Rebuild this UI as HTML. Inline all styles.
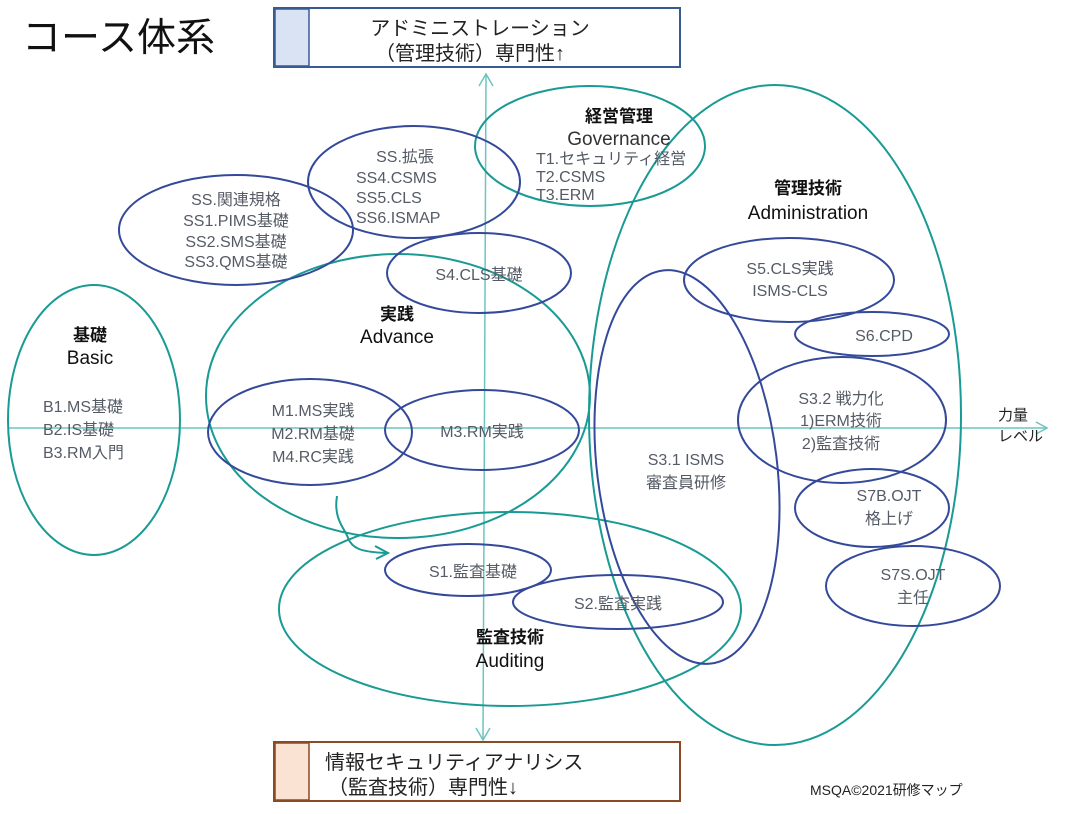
<!DOCTYPE html>
<html><head><meta charset="utf-8"><style>
body{margin:0;background:#fff;width:1072px;height:814px;overflow:hidden}
svg{display:block}
text{font-family:"Liberation Sans","Noto Sans CJK JP",sans-serif}
.g{fill:#555b66;font-size:16px}
.b{fill:#111;font-size:17px;font-weight:bold}
.t{fill:none;stroke:#1a9a94;stroke-width:2}
.n{fill:none;stroke:#34499a;stroke-width:2}
</style></head><body>
<svg width="1072" height="814" viewBox="0 0 1072 814">
<text x="22" y="51" font-size="39" fill="#111">コース体系</text>
<!-- boxes -->
<rect x="274" y="8" width="406" height="59" fill="#fff" stroke="#3a5a94" stroke-width="2"/>
<rect x="275" y="9" width="34" height="57" fill="#dae3f3" stroke="#3a5a94" stroke-width="1.5"/>
<text x="480" y="35" font-size="20" fill="#222" text-anchor="middle">アドミニストレーション</text>
<text x="470" y="60" font-size="20" fill="#222" text-anchor="middle">（管理技術）専門性↑</text>
<rect x="274" y="742" width="406" height="59" fill="#fff" stroke="#8a4a24" stroke-width="2"/>
<rect x="275" y="743" width="34" height="57" fill="#fbe3d4" stroke="#8a4a24" stroke-width="1.5"/>
<text x="325" y="769" font-size="20" fill="#222">情報セキュリティアナリシス</text>
<text x="328" y="794" font-size="20" fill="#222">（監査技術）専門性↓</text>
<!-- axes -->
<line x1="486" y1="74" x2="483" y2="740" stroke="#6cc5c0" stroke-width="1.5"/>
<polyline points="479,86 486,74 493,86" fill="none" stroke="#6cc5c0" stroke-width="1.5"/>
<polyline points="476,728 483,740 490,728" fill="none" stroke="#6cc5c0" stroke-width="1.5"/>
<line x1="8" y1="428" x2="1047" y2="428" stroke="#6cc5c0" stroke-width="1.5"/>
<polyline points="1036,422 1047,428 1036,434" fill="none" stroke="#6cc5c0" stroke-width="1.5"/>
<text x="998" y="420" font-size="15" fill="#222">力量</text>
<text x="998" y="441" font-size="15" fill="#222">レベル</text>
<!-- teal ellipses -->
<ellipse class="t" cx="590" cy="146" rx="115" ry="60"/>
<ellipse class="t" cx="775" cy="415" rx="186" ry="330"/>
<ellipse class="t" cx="94" cy="420" rx="86" ry="135"/>
<ellipse class="t" cx="398" cy="396" rx="192" ry="142"/>
<ellipse class="t" cx="510" cy="609" rx="231" ry="97"/>
<!-- navy ellipses -->
<ellipse class="n" cx="236" cy="230" rx="117" ry="55"/>
<ellipse class="n" cx="414" cy="182" rx="106" ry="56"/>
<ellipse class="n" cx="479" cy="273" rx="92" ry="40"/>
<ellipse class="n" cx="789" cy="280" rx="105" ry="42"/>
<ellipse class="n" cx="872" cy="334" rx="77" ry="22"/>
<ellipse class="n" cx="842" cy="420" rx="104" ry="63"/>
<ellipse class="n" cx="872" cy="508" rx="77" ry="39"/>
<ellipse class="n" cx="913" cy="586" rx="87" ry="40"/>
<ellipse class="n" cx="687" cy="467" rx="90" ry="198" transform="rotate(-7 687 467)"/>
<ellipse class="n" cx="310" cy="432" rx="102" ry="53"/>
<ellipse class="n" cx="482" cy="430" rx="97" ry="40"/>
<ellipse class="n" cx="468" cy="570" rx="83" ry="26"/>
<ellipse class="n" cx="618" cy="602" rx="105" ry="27"/>
<!-- curved arrow -->
<path d="M337,496 C333,520 346,530 348,538 C352,548 360,552 386,553" fill="none" stroke="#1a9a94" stroke-width="2"/>
<polyline points="375,546 388,553 376,559" fill="none" stroke="#1a9a94" stroke-width="2"/>
<!-- labels -->
<text x="619" y="122" class="b" text-anchor="middle">経営管理</text>
<text x="619" y="145" font-size="19" fill="#333" text-anchor="middle">Governance</text>
<text x="536" y="164" class="g">T1.セキュリティ経営</text>
<text x="536" y="182" class="g">T2.CSMS</text>
<text x="536" y="200" class="g">T3.ERM</text>
<text x="405" y="162" class="g" text-anchor="middle">SS.拡張</text>
<text x="356" y="183" class="g">SS4.CSMS</text>
<text x="356" y="203" class="g">SS5.CLS</text>
<text x="356" y="223" class="g">SS6.ISMAP</text>
<text x="236" y="205" class="g" text-anchor="middle">SS.関連規格</text>
<text x="236" y="226" class="g" text-anchor="middle">SS1.PIMS基礎</text>
<text x="236" y="247" class="g" text-anchor="middle">SS2.SMS基礎</text>
<text x="236" y="267" class="g" text-anchor="middle">SS3.QMS基礎</text>
<text x="479" y="280" class="g" text-anchor="middle">S4.CLS基礎</text>
<text x="808" y="194" class="b" text-anchor="middle">管理技術</text>
<text x="808" y="219" font-size="19" fill="#111" text-anchor="middle">Administration</text>
<text x="790" y="274" class="g" text-anchor="middle">S5.CLS実践</text>
<text x="790" y="296" class="g" text-anchor="middle">ISMS-CLS</text>
<text x="884" y="341" class="g" text-anchor="middle">S6.CPD</text>
<text x="841" y="404" class="g" text-anchor="middle">S3.2 戦力化</text>
<text x="841" y="426" class="g" text-anchor="middle">1)ERM技術</text>
<text x="841" y="449" class="g" text-anchor="middle">2)監査技術</text>
<text x="686" y="465" class="g" text-anchor="middle">S3.1 ISMS</text>
<text x="686" y="488" class="g" text-anchor="middle">審査員研修</text>
<text x="889" y="501" class="g" text-anchor="middle">S7B.OJT</text>
<text x="889" y="524" class="g" text-anchor="middle">格上げ</text>
<text x="913" y="580" class="g" text-anchor="middle">S7S.OJT</text>
<text x="913" y="603" class="g" text-anchor="middle">主任</text>
<text x="90" y="341" class="b" text-anchor="middle">基礎</text>
<text x="90" y="364" font-size="19" fill="#111" text-anchor="middle">Basic</text>
<text x="43" y="412" class="g">B1.MS基礎</text>
<text x="43" y="435" class="g">B2.IS基礎</text>
<text x="43" y="458" class="g">B3.RM入門</text>
<text x="397" y="320" class="b" text-anchor="middle">実践</text>
<text x="397" y="343" font-size="19" fill="#111" text-anchor="middle">Advance</text>
<text x="313" y="416" class="g" text-anchor="middle">M1.MS実践</text>
<text x="313" y="439" class="g" text-anchor="middle">M2.RM基礎</text>
<text x="313" y="462" class="g" text-anchor="middle">M4.RC実践</text>
<text x="482" y="437" class="g" text-anchor="middle">M3.RM実践</text>
<text x="473" y="577" class="g" text-anchor="middle">S1.監査基礎</text>
<text x="618" y="609" class="g" text-anchor="middle">S2.監査実践</text>
<text x="510" y="643" class="b" text-anchor="middle">監査技術</text>
<text x="510" y="667" font-size="19" fill="#111" text-anchor="middle">Auditing</text>
<text x="810" y="795" font-size="14" fill="#222">MSQA©2021研修マップ</text>
</svg>
</body></html>
